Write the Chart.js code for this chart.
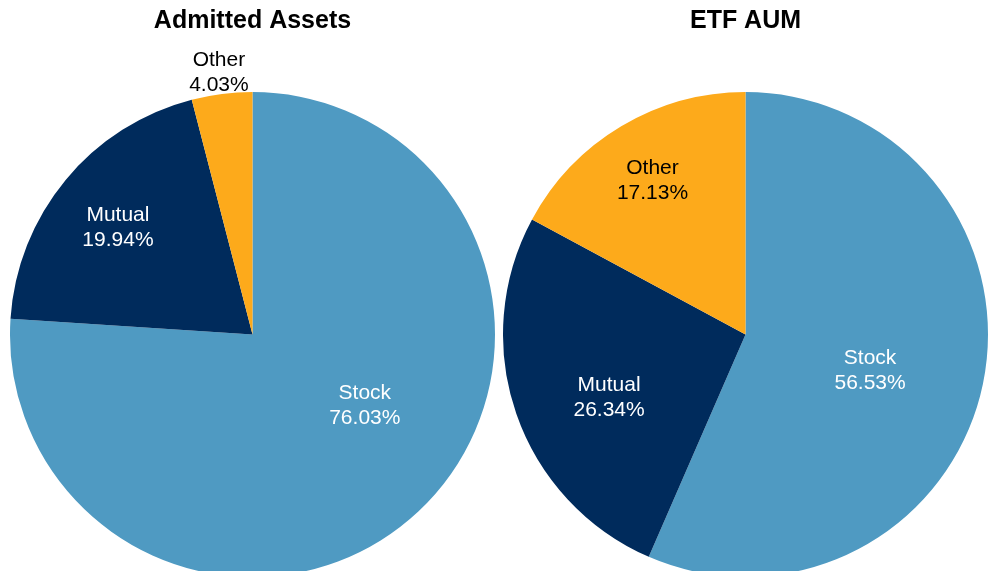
<!DOCTYPE html>
<html>
<head>
<meta charset="utf-8">
<script src="https://cdn.jsdelivr.net/npm/chart.js@4.4.1/dist/chart.umd.min.js"></script>
<style>
    html, body { margin: 0; padding: 0; background: #fff; overflow: hidden; width: 990px; height: 571px; }
    canvas { position: absolute; top: 0; }
    #graficoEsq { left: 5px; }
    #graficoDir { left: 498px; }
</style>
</head>
<body>
<canvas id="graficoEsq" width="495" height="577"></canvas>
<canvas id="graficoDir" width="495" height="577"></canvas>
<script>
// ===== DADOS =====
const categorias = ['Stock', 'Mutual', 'Other'];
const valoresAdmitted = [76.03, 19.94, 4.03];
const valoresEtf = [56.53, 26.34, 17.13];
const cores = ['#4F9AC2', '#002B5C', '#FDAA1B'];
const coresTexto = ['#FFFFFF', '#FFFFFF', '#000000'];

// posição dos rótulos (fração do raio, ajuste de ângulo em graus)
const raioRotuloEsq = [0.544, 0.713, 1.096];
const anguloRotuloEsq = [-15.2, -0.7, 0];
const raioRotuloDir = [0.533, 0.617, 0.748];
const anguloRotuloDir = [3.7, -5.2, 0];

// ===== PLUGIN DE RÓTULOS =====
const rotulosPlugin = {
    id: 'rotulos',
    afterDatasetsDraw(chart, args, opts) {
        const ctx = chart.ctx;
        const meta = chart.getDatasetMeta(0);
        ctx.save();
        ctx.font = '21px "Liberation Sans", Arial, sans-serif';
        ctx.textAlign = 'center';
        ctx.textBaseline = 'middle';
        meta.data.forEach((arc, i) => {
            const p = arc.getProps(['x', 'y', 'startAngle', 'endAngle', 'outerRadius'], true);
            const ang = (p.startAngle + p.endAngle) / 2 + opts.ajustes[i] * Math.PI / 180;
            const r = p.outerRadius * opts.raios[i];
            const x = p.x + Math.cos(ang) * r;
            const y = p.y + Math.sin(ang) * r;
            const valor = chart.data.datasets[0].data[i];
            ctx.fillStyle = coresTexto[i];
            ctx.fillText(chart.data.labels[i], x, y - 11);
            ctx.fillText(valor.toFixed(2) + '%', x, y + 14);
        });
        ctx.restore();
    }
};

function criarPizza(id, titulo, valores, raios, ajustes) {
    const ctx = document.getElementById(id).getContext('2d');
    return new Chart(ctx, {
        type: 'pie',
        data: {
            labels: categorias,
            datasets: [{
                data: valores,
                backgroundColor: cores,
                borderWidth: 0
            }]
        },
        options: {
            responsive: false,
            animation: false,
            layout: { padding: 0 },
            plugins: {
                legend: { display: false },
                tooltip: { enabled: false },
                title: {
                    display: true,
                    text: titulo,
                    color: '#000',
                    font: { family: '"Liberation Sans", Arial, sans-serif', size: 25, weight: 'bold', lineHeight: 1.2 },
                    padding: { top: 6, bottom: 56 }
                },
                rotulos: { raios: raios, ajustes: ajustes }
            }
        },
        plugins: [rotulosPlugin]
    });
}

criarPizza('graficoEsq', 'Admitted Assets', valoresAdmitted, raioRotuloEsq, anguloRotuloEsq);
criarPizza('graficoDir', 'ETF AUM', valoresEtf, raioRotuloDir, anguloRotuloDir);
</script>
</body>
</html>
